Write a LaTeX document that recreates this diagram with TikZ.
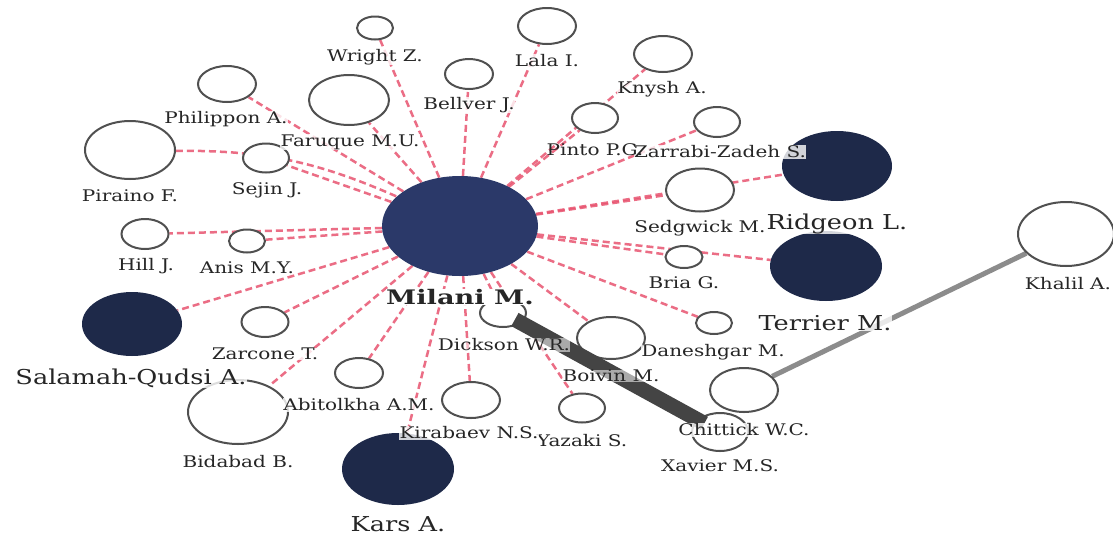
\documentclass[tikz,border=0pt]{standalone}
\usepackage{fontspec}
\setmainfont{DejaVu Serif}
\usetikzlibrary{shapes.geometric}

\definecolor{edgered}{RGB}{232,84,112}
\definecolor{navy}{RGB}{30,41,73}
\definecolor{milanifill}{RGB}{43,57,105}
\definecolor{ring}{RGB}{80,80,80}
\definecolor{labeltext}{RGB}{38,38,38}
\definecolor{bandgrey}{RGB}{68,68,68}
\definecolor{linkgrey}{RGB}{140,140,140}

\newcommand{\lab}[2][1.25]{\scalebox{#1}[1]{#2}}

\pgfdeclarelayer{edges}
\pgfdeclarelayer{labels}
\pgfsetlayers{edges,main,labels}

\tikzset{
 author/.style={ellipse, draw=ring, line width=2pt, fill=white, inner sep=0pt},
 darkauthor/.style={ellipse, fill=navy, inner sep=0pt},
 coauth/.style={draw=edgered, line width=2.5pt, dash pattern=on 7pt off 4pt, opacity=0.85},
 lbl/.style={text=labeltext, font=\fontsize{16}{16}\selectfont, inner sep=0.4pt, fill=white, fill opacity=0.8, text opacity=1},
 biglbl/.style={text=labeltext, font=\fontsize{20.5}{20}\selectfont, inner sep=0.4pt, fill=white, fill opacity=0.8, text opacity=1},
 halfhalo/.style={fill opacity=0.55},
 nohalo/.style={fill=none},
 sz/.style 2 args={minimum width=#1pt, minimum height=#2pt},
 bandline/.style={draw=bandgrey, line width=15pt},
 greyline/.style={draw=linkgrey, line width=5pt},
}

\begin{document}
\begin{tikzpicture}[x=1pt,y=-1pt]
\begin{pgfonlayer}{edges}
\fill[white] (0,0) rectangle (1113,536);
\end{pgfonlayer}
\useasboundingbox (0,0) rectangle (1113,536);

\path
 (375,28) node[author, sz={36}{23}] (wright) {}
 (227,84) node[author, sz={58}{36}] (philippon) {}
 (349,100) node[author, sz={80}{50}] (faruque) {}
 (130,150) node[author, sz={90}{58}] (piraino) {}
 (266,158) node[author, sz={46}{29}] (sejin) {}
 (145,234) node[author, sz={47}{30}] (hill) {}
 (247,241) node[author, sz={36}{23}] (anis) {}
 (469,74) node[author, sz={48}{30}] (bellver) {}
 (547,26) node[author, sz={58}{36}] (lala) {}
 (663,54) node[author, sz={58}{36}] (knysh) {}
 (595,118) node[author, sz={46}{30}] (pinto) {}
 (717,122) node[author, sz={46}{30}] (zarrabi) {}
 (700,190) node[author, sz={68}{43}] (sedgwick) {}
 (837,166) node[darkauthor, sz={110}{70}] (ridgeon) {}
 (826,266) node[darkauthor, sz={112}{70}] (terrier) {}
 (684,257) node[author, sz={37}{22}] (bria) {}
 (1066,234) node[author, sz={96}{64}] (khalil) {}
 (714,323) node[author, sz={36}{22}] (daneshgar) {}
 (744,390) node[author, sz={68}{44}] (chittick) {}
 (720,432) node[author, sz={56}{38}] (xavier) {}
 (611,338) node[author, sz={68}{42}] (boivin) {}
 (582,408) node[author, sz={46}{29}] (yazaki) {}
 (471,400) node[author, sz={58}{36}] (kirabaev) {}
 (503,313) node[author, sz={46}{28}] (dickson) {}
 (359,373) node[author, sz={48}{30}] (abitolkha) {}
 (398,469) node[darkauthor, sz={112}{72}] (kars) {}
 (132,324) node[darkauthor, sz={100}{64}] (salamah) {}
 (238,412) node[author, sz={100}{64}] (bidabad) {}
 (265,322) node[author, sz={47}{30}] (zarcone) {}
 (460,226) node[ellipse, fill=milanifill, inner sep=0pt, sz={156}{100}] (milani) {};

\begin{pgfonlayer}{edges}
 \foreach \n in {wright,philippon,faruque,sejin,hill,anis,bellver,lala,knysh,pinto,zarrabi,sedgwick,ridgeon,terrier,bria,daneshgar,boivin,yazaki,kirabaev,dickson,abitolkha,kars,salamah,bidabad,zarcone}
   \draw[coauth] (milani) -- (\n);
 \draw[coauth] (piraino) to[bend left=12] (milani);
 \draw[greyline] (chittick) -- (khalil);
\end{pgfonlayer}

\draw[bandline, shorten <=-7pt, shorten >=-8pt] (dickson) -- (xavier);

\begin{pgfonlayer}{labels}
 \node[lbl] (lwright) at (375,57) {\lab{Wright Z.}};
 \node[lbl] (lphilippon) at (226,119) {\lab{Philippon A.}};
 \node[lbl] (lfaruque) at (350,142) {\lab{Faruque M.U.}};
 \node[lbl] (lpiraino) at (130,196) {\lab{Piraino F.}};
 \node[lbl] (lsejin) at (267,190) {\lab{Sejin J.}};
 \node[lbl] (lhill) at (146,266) {\lab{Hill J.}};
 \node[lbl] (lanis) at (247,268) {\lab{Anis M.Y.}};
 \node[lbl] (lbellver) at (469,105) {\lab{Bellver J.}};
 \node[lbl] (llala) at (547,61) {\lab{Lala I.}};
 \node[lbl] (lknysh) at (662,89) {\lab{Knysh A.}};
 \node[lbl] (lzarrabi) at (720,152) {\lab{Zarrabi-Zadeh S.}};
 \node[lbl, nohalo] (lpinto) at (595,150) {\lab{Pinto P.G.}};
 \node[lbl] (lsedgwick) at (700,228) {\lab{Sedgwick M.}};
 \node[biglbl] (lridgeon) at (837,224) {\lab{Ridgeon L.}};
 \node[lbl] (lbria) at (684,283) {\lab{Bria G.}};
 \node[biglbl] (lterrier) at (825,323) {\lab{Terrier M.}};
 \node[lbl] (lkhalil) at (1068,284) {\lab{Khalil A.}};
 \node[lbl] (ldaneshgar) at (713,352) {\lab{Daneshgar M.}};
 \node[lbl] (lchittick) at (744,430) {\lab{Chittick W.C.}};
 \node[lbl] (lxavier) at (720,466) {\lab{Xavier M.S.}};
 \node[lbl, halfhalo] (lboivin) at (611,376) {\lab{Boivin M.}};
 \node[lbl] (lyazaki) at (582,441) {\lab{Yazaki S.}};
 \node[lbl] (lkirabaev) at (469,433) {\lab{Kirabaev N.S.}};
 \node[lbl, halfhalo] (ldickson) at (504,345) {\lab{Dickson W.R.}};
 \node[lbl] (labitolkha) at (359,405) {\lab{Abitolkha A.M.}};
 \node[biglbl] (lkars) at (398,524) {\lab{Kars A.}};
 \node[biglbl] (lsalamah) at (131,378) {\lab{Salamah-Qudsi A.}};
 \node[lbl] (lbidabad) at (238,462) {\lab{Bidabad B.}};
 \node[lbl] (lzarcone) at (265,354) {\lab{Zarcone T.}};
 \node[text=labeltext, fill=white, font=\bfseries\fontsize{20}{20}\selectfont, inner sep=0.4pt] (lmilani) at (460,297) {\lab[1.36]{Milani M.}};
\end{pgfonlayer}
\end{tikzpicture}
\end{document}
